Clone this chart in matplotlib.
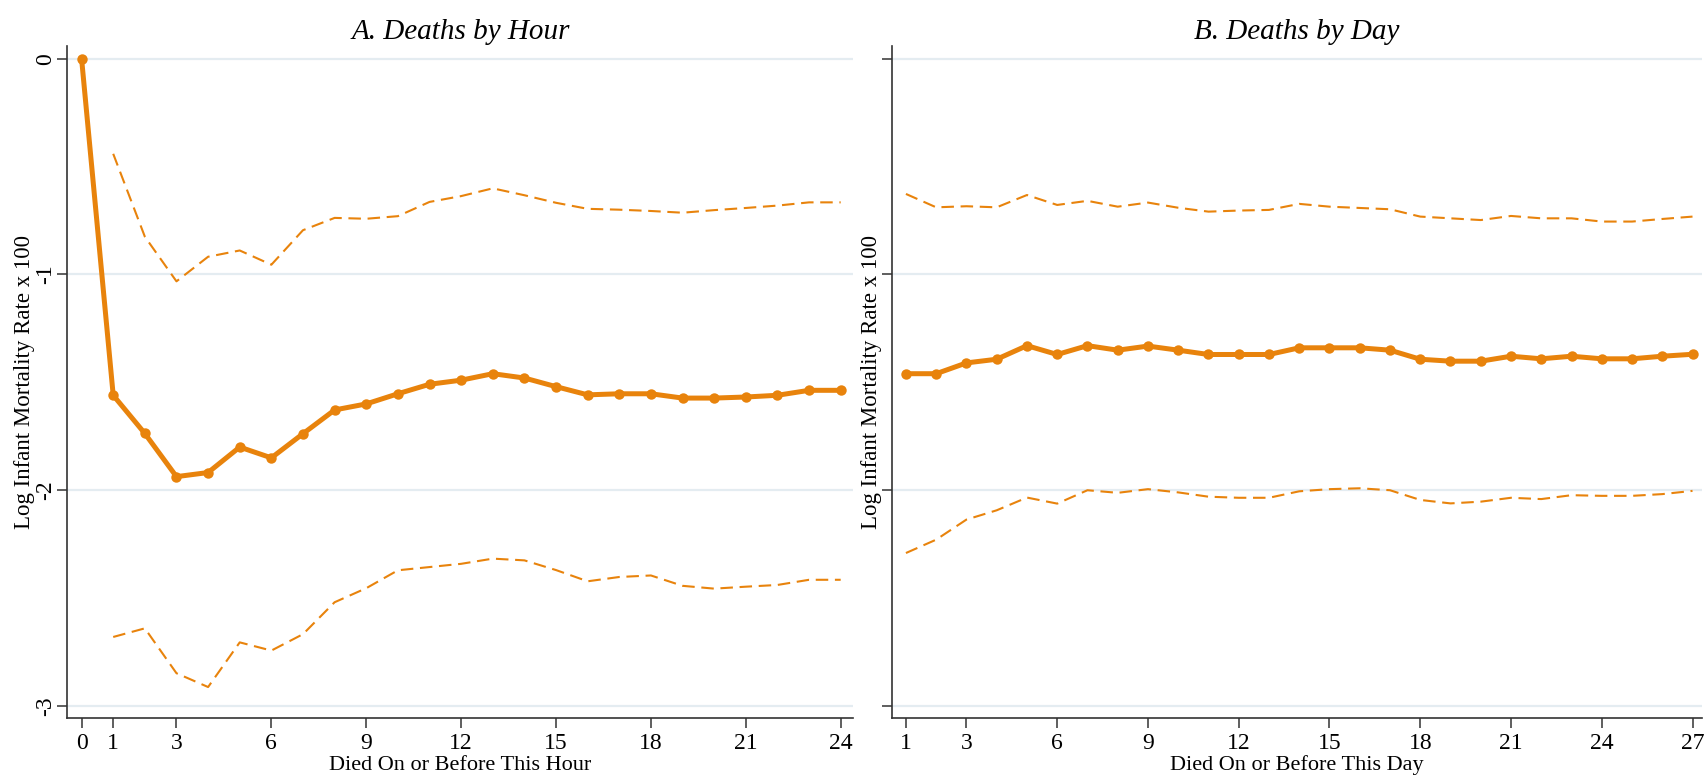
import matplotlib
matplotlib.use("Agg")
import matplotlib.pyplot as plt
import numpy as np

# ---------------- data ----------------
hours = list(range(0, 25))
hour_est = [0.0, -1.560, -1.737, -1.937, -1.918, -1.800, -1.850, -1.738, -1.628, -1.600,
            -1.553, -1.509, -1.490, -1.460, -1.480, -1.520, -1.558, -1.553, -1.553, -1.573,
            -1.573, -1.568, -1.560, -1.537, -1.537]
hours_ci = list(range(1, 25))
hour_upper = [-0.441, -0.825, -1.032, -0.918, -0.889, -0.955, -0.795, -0.738, -0.742, -0.730,
              -0.664, -0.637, -0.601, -0.633, -0.668, -0.696, -0.700, -0.706, -0.714, -0.702,
              -0.692, -0.681, -0.666, -0.666]
hour_lower = [-2.680, -2.640, -2.848, -2.912, -2.705, -2.743, -2.667, -2.519, -2.454, -2.371,
              -2.356, -2.341, -2.317, -2.325, -2.370, -2.422, -2.402, -2.395, -2.443, -2.456,
              -2.447, -2.439, -2.415, -2.415]

days = list(range(1, 28))
day_est = [-1.460, -1.460, -1.410, -1.393, -1.330, -1.371, -1.330, -1.351, -1.332, -1.351,
           -1.371, -1.371, -1.371, -1.340, -1.340, -1.340, -1.351, -1.393, -1.402, -1.402,
           -1.379, -1.391, -1.379, -1.391, -1.391, -1.379, -1.370]
day_upper = [-0.627, -0.689, -0.684, -0.689, -0.632, -0.678, -0.659, -0.686, -0.667, -0.691,
             -0.709, -0.704, -0.701, -0.673, -0.686, -0.692, -0.698, -0.732, -0.740, -0.748,
             -0.729, -0.740, -0.740, -0.755, -0.755, -0.743, -0.732]
day_lower = [-2.291, -2.229, -2.136, -2.093, -2.034, -2.062, -2.000, -2.012, -1.995, -2.010,
             -2.030, -2.035, -2.035, -2.005, -1.995, -1.991, -2.000, -2.045, -2.061, -2.053,
             -2.035, -2.041, -2.023, -2.026, -2.026, -2.018, -2.003]

hour_ticks = [0, 1, 3, 6, 9, 12, 15, 18, 21, 24]
day_ticks = [1, 3, 6, 9, 12, 15, 18, 21, 24, 27]
y_ticks = [0, -1, -2, -3]

titles = ["A. Deaths by Hour", "B. Deaths by Day"]
xlabels = ["Died On or Before This Hour", "Died On or Before This Day"]
ylabel = "Log Infant Mortality Rate x 100"

# ---------------- style ----------------
plt.rcParams['font.family'] = ['Liberation Serif', 'DejaVu Serif']
ORANGE = '#E8830C'
GRID = '#e4ecf1'
AXC = '#333333'

fig = plt.figure(figsize=(17.05, 7.81), dpi=100)
fig.patch.set_facecolor('white')
ax1 = fig.add_axes([0.0395, 0.0808, 0.461, 0.8607])
ax2 = fig.add_axes([0.523, 0.0808, 0.475, 0.8607])


def style(ax, xt, xlim, title, xlabel, show_ylabels):
    ax.set_ylim(-3.055, 0.06)
    ax.set_xlim(*xlim)
    ax.set_yticks(y_ticks)
    ax.set_xticks(xt)
    ax.set_xticklabels([str(t) for t in xt], fontsize=17)
    if show_ylabels:
        ax.set_yticklabels([str(t) for t in y_ticks], fontsize=17, rotation=90, va='center')
    else:
        ax.set_yticklabels([])
    for s in ['top', 'right']:
        ax.spines[s].set_visible(False)
    for s in ['left', 'bottom']:
        ax.spines[s].set_color(AXC)
        ax.spines[s].set_linewidth(1.2)
    ax.tick_params(axis='both', direction='out', length=7, width=1.1, color=AXC, pad=4)
    ax.tick_params(axis='y', pad=1)
    ax.yaxis.grid(True, color=GRID, linewidth=1.6)
    ax.set_axisbelow(True)
    ax.set_title(title, fontsize=21, style='italic', pad=5)
    ax.set_xlabel(xlabel, fontsize=16, labelpad=1)
    ax.set_ylabel(ylabel, fontsize=16.5, labelpad=0 if show_ylabels else -1)


style(ax1, hour_ticks, (-0.45, 24.4), titles[0], xlabels[0], True)
style(ax2, day_ticks, (0.53, 27.3), titles[1], xlabels[1], False)

for ax, x, est, xc, up, lo in [(ax1, hours, hour_est, hours_ci, hour_upper, hour_lower),
                               (ax2, days, day_est, days, day_upper, day_lower)]:
    ax.plot(xc, up, color=ORANGE, lw=1.5, linestyle=(0, (6, 3.2)))
    ax.plot(xc, lo, color=ORANGE, lw=1.5, linestyle=(0, (6, 3.2)))
    ax.plot(x, est, color=ORANGE, lw=3.6, marker='o', markersize=7.5,
            markeredgewidth=0, clip_on=False, zorder=5)

fig.savefig('out.png', dpi=100, facecolor='white')
